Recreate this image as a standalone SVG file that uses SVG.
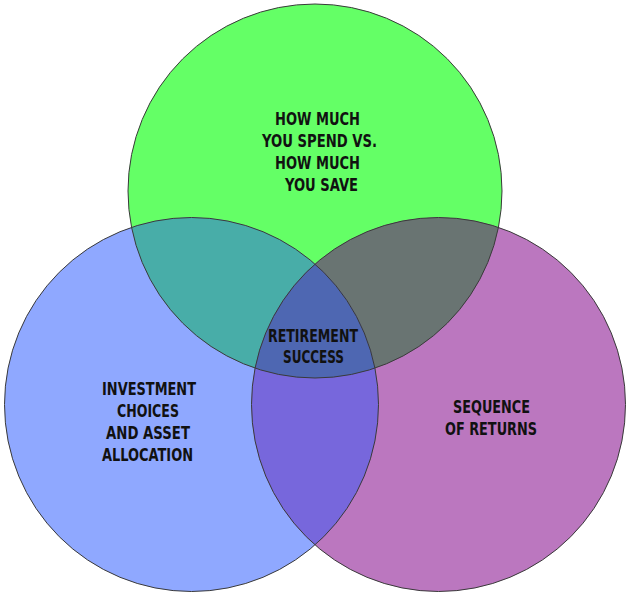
<svg xmlns="http://www.w3.org/2000/svg" width="631" height="597" viewBox="0 0 631 597">
<style>
.lbl{font-family:"DejaVu Sans","Liberation Sans",sans-serif;font-weight:bold;font-size:18px;font-stretch:condensed;fill:#111;text-anchor:middle}
.edge{fill:none;stroke:#3a3a3a;stroke-width:1}
</style>
<defs>
<circle id="cG" cx="315" cy="191" r="187"/>
<circle id="cB" cx="191.5" cy="404.5" r="187"/>
<circle id="cP" cx="438.5" cy="404.5" r="187"/>
<clipPath id="clipG"><use href="#cG"/></clipPath>
<clipPath id="clipB"><use href="#cB"/></clipPath>
<clipPath id="clipP"><use href="#cP"/></clipPath>
</defs>
<rect width="631" height="597" fill="#ffffff"/>
<g id="green">
<use href="#cG" fill="#64FF66"/>
</g>
<g id="blue">
<use href="#cB" fill="#8FA8FF"/>
</g>
<g id="purple">
<use href="#cP" fill="#BB77BF"/>
</g>
<g id="overlaps">
<g clip-path="url(#clipG)"><use href="#cB" fill="#48ADA8"/></g>
<g clip-path="url(#clipG)"><use href="#cP" fill="#697472"/></g>
<g clip-path="url(#clipB)"><use href="#cP" fill="#7767DC"/></g>
<g clip-path="url(#clipG)"><g clip-path="url(#clipB)"><use href="#cP" fill="#4E67B2"/></g></g>
</g>
<g id="outlines">
<use href="#cG" class="edge"/>
<use href="#cB" class="edge"/>
<use href="#cP" class="edge"/>
</g>
<g id="label-green">
<text class="lbl" x="317.5" y="125" textLength="85" lengthAdjust="spacingAndGlyphs">HOW MUCH</text>
<text class="lbl" x="319.5" y="147" textLength="115" lengthAdjust="spacingAndGlyphs">YOU SPEND VS.</text>
<text class="lbl" x="317.5" y="169" textLength="85" lengthAdjust="spacingAndGlyphs">HOW MUCH</text>
<text class="lbl" x="321.5" y="191" textLength="73" lengthAdjust="spacingAndGlyphs">YOU SAVE</text>
</g>
<g id="label-center">
<text class="lbl" x="313" y="342" textLength="90" lengthAdjust="spacingAndGlyphs">RETIREMENT</text>
<text class="lbl" x="313.5" y="363" textLength="61" lengthAdjust="spacingAndGlyphs">SUCCESS</text>
</g>
<g id="label-blue">
<text class="lbl" x="149" y="395" textLength="94" lengthAdjust="spacingAndGlyphs">INVESTMENT</text>
<text class="lbl" x="148" y="417" textLength="62" lengthAdjust="spacingAndGlyphs">CHOICES</text>
<text class="lbl" x="148" y="439" textLength="84" lengthAdjust="spacingAndGlyphs">AND ASSET</text>
<text class="lbl" x="147.5" y="461" textLength="91" lengthAdjust="spacingAndGlyphs">ALLOCATION</text>
</g>
<g id="label-purple">
<text class="lbl" x="491.5" y="413" textLength="77" lengthAdjust="spacingAndGlyphs">SEQUENCE</text>
<text class="lbl" x="491" y="435" textLength="92" lengthAdjust="spacingAndGlyphs">OF RETURNS</text>
</g>
</svg>
